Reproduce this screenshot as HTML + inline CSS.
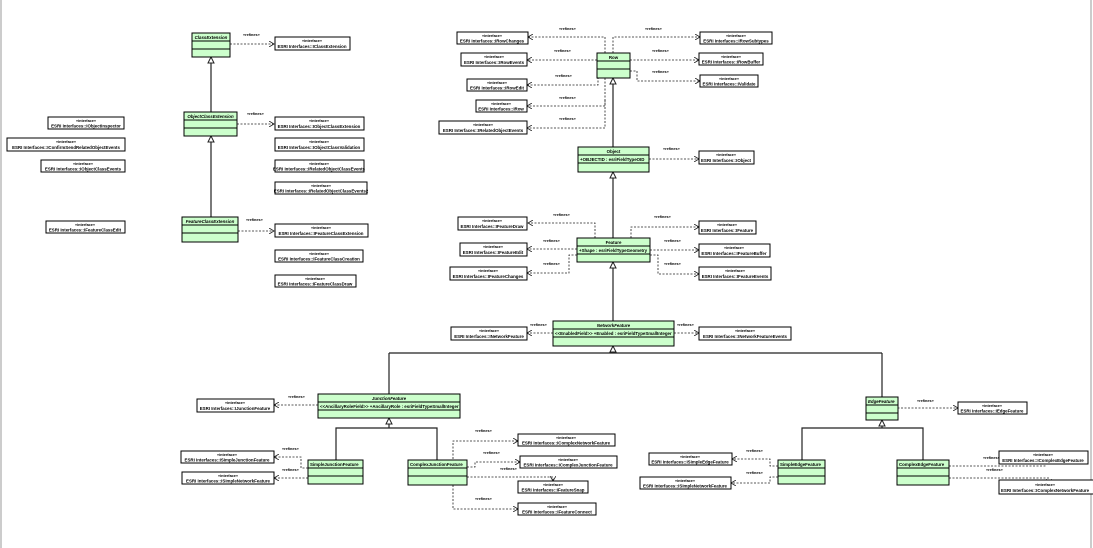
<!DOCTYPE html>
<html><head><meta charset="utf-8"><style>
html,body{margin:0;padding:0;background:#fff;width:1093px;height:548px;overflow:hidden}
svg text{font-family:"Liberation Sans",sans-serif;font-weight:bold;fill:#000}
.s{font-size:3.8px}.n{font-size:4.4px}.r{font-size:3.8px;fill:#000066}
.c{fill:#ccffcc;stroke:#000;stroke-width:1}
.i{fill:#fff;stroke:#000;stroke-width:1}
.d{fill:none;stroke:#222;stroke-width:0.8;stroke-dasharray:2,1.5}
.g{fill:none;stroke:#222;stroke-width:1.2}
.t{fill:#fff;stroke:#222;stroke-width:1}
</style></head><body>
<svg width="1093" height="548" viewBox="0 0 1093 548" xmlns="http://www.w3.org/2000/svg">
<defs>
<marker id="a" markerWidth="6" markerHeight="6" refX="5" refY="3" orient="auto" markerUnits="userSpaceOnUse"><path d="M0,0 L5,3 L0,6" fill="none" stroke="#222" stroke-width="0.8"/></marker>
</defs>
<line x1="1" y1="0" x2="1" y2="548" stroke="#999" stroke-width="1"/>
<line x1="1091" y1="0" x2="1091" y2="548" stroke="#999" stroke-width="1"/>

<path class="g" d="M211,63 V112 M211,142 V217 M613,84 V147 M613,178 V238 M613,268 V321 M613,352 V353 M389,353 H882 M389,353 V394 M882,353 V397 M389,424 V428 H336 V460 M389,428 H437 V460 M882,426 V428 H802 V460 M882,428 H923 V460"/>
<path class="t" d="M211,57 l-3,6 h6 z M211,136 l-3,6 h6 z M613,78 l-3,6 h6 z M613,172 l-3,6 h6 z M613,262 l-3,6 h6 z M613,346 l-3,6 h6 z M389,418 l-3,6 h6 z M882,420 l-3,6 h6 z"/>

<g class="d" marker-end="url(#a)">
<path d="M230,44 H274"/>
<path d="M237,124 H274"/>
<path d="M238,231 H274"/>
<path d="M605,53 V37 H528"/>
<path d="M597,60 H527"/>
<path d="M597,71 H598 V85 H527"/>
<path d="M605,78 V106 H527"/>
<path d="M605,100 V128 H527"/>
<path d="M613,53 V37 H700"/>
<path d="M630,60 H699"/>
<path d="M630,71 H637 V81 H700"/>
<path d="M649,159 H699"/>
<path d="M595,238 V223 H528"/>
<path d="M577,249 H527"/>
<path d="M577,255 H569 V273 H527"/>
<path d="M631,238 V227 H699"/>
<path d="M650,250 H699"/>
<path d="M650,255 H658 V274 H699"/>
<path d="M553,333 H527"/>
<path d="M674,333 H699"/>
<path d="M318,405 H274"/>
<path d="M308,468 H301 V457 H274"/>
<path d="M308,478 H274"/>
<path d="M467,466 H453 V441 H518"/>
<path d="M467,467 H475 V462 H520"/>
<path d="M467,477 H553 V481"/>
<path d="M453,485 V509 H518"/>
<path d="M866,408 H958"/>
<path d="M778,466 H770 V459 H732"/>
<path d="M778,477 H770 V483 H731"/>
<path d="M949,466 H1045 V458"/>
<path d="M949,478 H1049 V484"/>
</g>

<g class="r">
<text x="243" y="36">«refines»</text><text x="247" y="115">«refines»</text><text x="246" y="221">«refines»</text>
<text x="559" y="30">«refines»</text><text x="645" y="30">«refines»</text>
<text x="554" y="52">«refines»</text><text x="652" y="52">«refines»</text>
<text x="555" y="77">«refines»</text><text x="652" y="73">«refines»</text>
<text x="559" y="99">«refines»</text><text x="559" y="120">«refines»</text>
<text x="663" y="150">«refines»</text>
<text x="553" y="216">«refines»</text><text x="654" y="218">«refines»</text>
<text x="543" y="242">«refines»</text><text x="664" y="242">«refines»</text>
<text x="543" y="265">«refines»</text><text x="664" y="265">«refines»</text>
<text x="530" y="326">«refines»</text><text x="677" y="326">«refines»</text>
<text x="288" y="398">«refines»</text>
<text x="282" y="450">«refines»</text><text x="282" y="471">«refines»</text>
<text x="475" y="432">«refines»</text><text x="483" y="454">«refines»</text><text x="500" y="470">«refines»</text><text x="475" y="500">«refines»</text>
<text x="917" y="402">«refines»</text>
<text x="746" y="452">«refines»</text><text x="746" y="474">«refines»</text>
<text x="983" y="459">«refines»</text><text x="986" y="471">«refines»</text>
</g>

<g>
<rect class="c" x="192" y="33" width="38" height="24"/><path d="M192,41H230M192,49H230" stroke="#000"/><text class="n" x="211" y="39" text-anchor="middle" font-style="italic">ClassExtension</text>
<rect class="c" x="184" y="112" width="53" height="24"/><path d="M184,120H237M184,128H237" stroke="#000"/><text class="n" x="210.5" y="118" text-anchor="middle" font-style="italic">ObjectClassExtension</text>
<rect class="c" x="182" y="217" width="56" height="25"/><path d="M182,225H238M182,233H238" stroke="#000"/><text class="n" x="210" y="223" text-anchor="middle" font-style="italic">FeatureClassExtension</text>
<rect class="c" x="597" y="53" width="33" height="25"/><path d="M597,61H630M597,69H630" stroke="#000"/><text class="n" x="613.5" y="59" text-anchor="middle">Row</text>
<rect class="c" x="578" y="147" width="71" height="25"/><path d="M578,155H649M578,163H649" stroke="#000"/><text class="n" x="613.5" y="153" text-anchor="middle">Object</text><text class="n" x="580" y="161">+OBJECTID : esriFieldTypeOID</text>
<rect class="c" x="577" y="238" width="73" height="24"/><path d="M577,246H650M577,254H650" stroke="#000"/><text class="n" x="613.5" y="244" text-anchor="middle">Feature</text><text class="n" x="579" y="252">+Shape : esriFieldTypeGeometry</text>
<rect class="c" x="553" y="321" width="121" height="25"/><path d="M553,329H674M553,337H674" stroke="#000"/><text class="n" x="613.5" y="327" text-anchor="middle" font-style="italic">NetworkFeature</text><text class="n" x="555" y="335">&lt;&lt;EnabledField&gt;&gt; +Enabled : esriFieldTypeSmallInteger</text>
<rect class="c" x="318" y="394" width="142" height="24"/><path d="M318,402H460M318,410H460" stroke="#000"/><text class="n" x="389" y="400" text-anchor="middle" font-style="italic">JunctionFeature</text><text class="n" x="320" y="408">&lt;&lt;AncillaryRoleField&gt;&gt; +AncillaryRole : esriFieldTypeSmallInteger</text>
<rect class="c" x="308" y="460" width="55" height="24"/><path d="M308,468H363M308,476H363" stroke="#000"/><text class="n" x="310" y="466">SimpleJunctionFeature</text>
<rect class="c" x="408" y="460" width="59" height="25"/><path d="M408,468H467M408,476H467" stroke="#000"/><text class="n" x="410" y="466">ComplexJunctionFeature</text>
<rect class="c" x="866" y="397" width="32" height="23"/><path d="M866,405H898M866,413H898" stroke="#000"/><text class="n" x="868" y="403" font-style="italic">EdgeFeature</text>
<rect class="c" x="778" y="460" width="47" height="24"/><path d="M778,468H825M778,476H825" stroke="#000"/><text class="n" x="780" y="466">SimpleEdgeFeature</text>
<rect class="c" x="897" y="460" width="52" height="25"/><path d="M897,468H949M897,476H949" stroke="#000"/><text class="n" x="899" y="466">ComplexEdgeFeature</text>
</g>

<g>
<rect class="i" x="275" y="37" width="75" height="13"/><text class="s" x="312" y="42" text-anchor="middle">«interface»</text><text class="n" x="312" y="48" text-anchor="middle">ESRI Interfaces::IClassExtension</text>
<rect class="i" x="275" y="117" width="89" height="13"/><text class="s" x="319" y="122" text-anchor="middle">«interface»</text><text class="n" x="319" y="128" text-anchor="middle">ESRI Interfaces::IObjectClassExtension</text>
<rect class="i" x="275" y="138" width="89" height="13"/><text class="s" x="319" y="143" text-anchor="middle">«interface»</text><text class="n" x="319" y="149" text-anchor="middle">ESRI Interfaces::IObjectClassValidation</text>
<rect class="i" x="275" y="160" width="89" height="12"/><text class="s" x="319" y="165" text-anchor="middle">«interface»</text><text class="n" x="319" y="170.5" text-anchor="middle">ESRI Interfaces::IRelatedObjectClassEvents</text>
<rect class="i" x="275" y="182" width="92" height="12"/><text class="s" x="321" y="187" text-anchor="middle">«interface»</text><text class="n" x="321" y="192.5" text-anchor="middle">ESRI Interfaces::IRelatedObjectClassEvents2</text>
<rect class="i" x="275" y="224" width="93" height="13"/><text class="s" x="321" y="229" text-anchor="middle">«interface»</text><text class="n" x="321" y="235" text-anchor="middle">ESRI Interfaces::IFeatureClassExtension</text>
<rect class="i" x="275" y="250" width="88" height="12"/><text class="s" x="319" y="255" text-anchor="middle">«interface»</text><text class="n" x="319" y="260.5" text-anchor="middle">ESRI Interfaces::IFeatureClassCreation</text>
<rect class="i" x="275" y="275" width="81" height="12"/><text class="s" x="315" y="280" text-anchor="middle">«interface»</text><text class="n" x="315" y="285.5" text-anchor="middle">ESRI Interfaces::IFeatureClassDraw</text>
<rect class="i" x="48" y="117" width="76" height="12"/><text class="s" x="86" y="122" text-anchor="middle">«interface»</text><text class="n" x="86" y="127.5" text-anchor="middle">ESRI Interfaces::IObjectInspector</text>
<rect class="i" x="7" y="138" width="118" height="13"/><text class="s" x="66" y="143" text-anchor="middle">«interface»</text><text class="n" x="66" y="149" text-anchor="middle">ESRI Interfaces::IConfirmSendRelatedObjectEvents</text>
<rect class="i" x="41" y="160" width="84" height="12"/><text class="s" x="83" y="165" text-anchor="middle">«interface»</text><text class="n" x="83" y="170.5" text-anchor="middle">ESRI Interfaces::IObjectClassEvents</text>
<rect class="i" x="46" y="221" width="79" height="12"/><text class="s" x="85" y="226" text-anchor="middle">«interface»</text><text class="n" x="85" y="231.5" text-anchor="middle">ESRI Interfaces::IFeatureClassEdit</text>

<rect class="i" x="457" y="32" width="71" height="12"/><text class="s" x="492" y="37" text-anchor="middle">«interface»</text><text class="n" x="492" y="42.5" text-anchor="middle">ESRI Interfaces::IRowChanges</text>
<rect class="i" x="461" y="53" width="66" height="13"/><text class="s" x="494" y="58" text-anchor="middle">«interface»</text><text class="n" x="494" y="64" text-anchor="middle">ESRI Interfaces::IRowEvents</text>
<rect class="i" x="467" y="79" width="60" height="12"/><text class="s" x="497" y="84" text-anchor="middle">«interface»</text><text class="n" x="497" y="89.5" text-anchor="middle">ESRI Interfaces::IRowEdit</text>
<rect class="i" x="476" y="100" width="51" height="12"/><text class="s" x="501" y="105" text-anchor="middle">«interface»</text><text class="n" x="501" y="110.5" text-anchor="middle">ESRI Interfaces::IRow</text>
<rect class="i" x="439" y="121" width="88" height="13"/><text class="s" x="483" y="126" text-anchor="middle">«interface»</text><text class="n" x="483" y="132" text-anchor="middle">ESRI Interfaces::IRelatedObjectEvents</text>
<rect class="i" x="700" y="32" width="72" height="12"/><text class="s" x="736" y="37" text-anchor="middle">«interface»</text><text class="n" x="736" y="42.5" text-anchor="middle">ESRI Interfaces::IRowSubtypes</text>
<rect class="i" x="699" y="53" width="64" height="12"/><text class="s" x="731" y="58" text-anchor="middle">«interface»</text><text class="n" x="731" y="63.5" text-anchor="middle">ESRI Interfaces::IRowBuffer</text>
<rect class="i" x="700" y="75" width="58" height="12"/><text class="s" x="729" y="80" text-anchor="middle">«interface»</text><text class="n" x="729" y="85.5" text-anchor="middle">ESRI Interfaces::IValidate</text>
<rect class="i" x="699" y="151" width="55" height="13"/><text class="s" x="726" y="156" text-anchor="middle">«interface»</text><text class="n" x="726" y="162" text-anchor="middle">ESRI Interfaces::IObject</text>

<rect class="i" x="458" y="217" width="69" height="13"/><text class="s" x="492" y="222" text-anchor="middle">«interface»</text><text class="n" x="492" y="228" text-anchor="middle">ESRI Interfaces::IFeatureDraw</text>
<rect class="i" x="460" y="243" width="67" height="13"/><text class="s" x="493" y="248" text-anchor="middle">«interface»</text><text class="n" x="493" y="254" text-anchor="middle">ESRI Interfaces::IFeatureEdit</text>
<rect class="i" x="450" y="267" width="77" height="13"/><text class="s" x="488" y="272" text-anchor="middle">«interface»</text><text class="n" x="488" y="278" text-anchor="middle">ESRI Interfaces::IFeatureChanges</text>
<rect class="i" x="699" y="221" width="57" height="13"/><text class="s" x="727" y="226" text-anchor="middle">«interface»</text><text class="n" x="727" y="232" text-anchor="middle">ESRI Interfaces::IFeature</text>
<rect class="i" x="699" y="244" width="71" height="13"/><text class="s" x="734" y="249" text-anchor="middle">«interface»</text><text class="n" x="734" y="255" text-anchor="middle">ESRI Interfaces::IFeatureBuffer</text>
<rect class="i" x="699" y="267" width="72" height="13"/><text class="s" x="735" y="272" text-anchor="middle">«interface»</text><text class="n" x="735" y="278" text-anchor="middle">ESRI Interfaces::IFeatureEvents</text>
<rect class="i" x="451" y="327" width="76" height="13"/><text class="s" x="489" y="332" text-anchor="middle">«interface»</text><text class="n" x="489" y="338" text-anchor="middle">ESRI Interfaces::INetworkFeature</text>
<rect class="i" x="699" y="327" width="92" height="13"/><text class="s" x="745" y="332" text-anchor="middle">«interface»</text><text class="n" x="745" y="338" text-anchor="middle">ESRI Interfaces::INetworkFeatureEvents</text>

<rect class="i" x="197" y="399" width="77" height="13"/><text class="s" x="235" y="404" text-anchor="middle">«interface»</text><text class="n" x="235" y="410" text-anchor="middle">ESRI Interfaces::IJunctionFeature</text>
<rect class="i" x="181" y="451" width="93" height="12"/><text class="s" x="227" y="456" text-anchor="middle">«interface»</text><text class="n" x="227" y="461.5" text-anchor="middle">ESRI Interfaces::ISimpleJunctionFeature</text>
<rect class="i" x="182" y="472" width="92" height="12"/><text class="s" x="228" y="477" text-anchor="middle">«interface»</text><text class="n" x="228" y="482.5" text-anchor="middle">ESRI Interfaces::ISimpleNetworkFeature</text>
<rect class="i" x="518" y="434" width="97" height="12"/><text class="s" x="566" y="439" text-anchor="middle">«interface»</text><text class="n" x="566" y="444.5" text-anchor="middle">ESRI Interfaces::IComplexNetworkFeature</text>
<rect class="i" x="520" y="456" width="97" height="12"/><text class="s" x="568" y="461" text-anchor="middle">«interface»</text><text class="n" x="568" y="466.5" text-anchor="middle">ESRI Interfaces::IComplexJunctionFeature</text>
<rect class="i" x="518" y="481" width="70" height="12"/><text class="s" x="553" y="486" text-anchor="middle">«interface»</text><text class="n" x="553" y="491.5" text-anchor="middle">ESRI Interfaces::IFeatureSnap</text>
<rect class="i" x="518" y="503" width="78" height="12"/><text class="s" x="557" y="508" text-anchor="middle">«interface»</text><text class="n" x="557" y="513.5" text-anchor="middle">ESRI Interfaces::IFeatureConnect</text>

<rect class="i" x="958" y="402" width="69" height="12"/><text class="s" x="992" y="407" text-anchor="middle">«interface»</text><text class="n" x="992" y="412.5" text-anchor="middle">ESRI Interfaces::IEdgeFeature</text>
<rect class="i" x="649" y="453" width="83" height="12"/><text class="s" x="690" y="458" text-anchor="middle">«interface»</text><text class="n" x="690" y="463.5" text-anchor="middle">ESRI Interfaces::ISimpleEdgeFeature</text>
<rect class="i" x="640" y="477" width="91" height="12"/><text class="s" x="685" y="482" text-anchor="middle">«interface»</text><text class="n" x="685" y="487.5" text-anchor="middle">ESRI Interfaces::ISimpleNetworkFeature</text>
<rect class="i" x="999" y="451" width="89" height="13"/><text class="s" x="1043" y="456" text-anchor="middle">«interface»</text><text class="n" x="1043" y="462" text-anchor="middle">ESRI Interfaces::IComplexEdgeFeature</text>
<rect class="i" x="999" y="480" width="96" height="14"/><text class="s" x="1045" y="486" text-anchor="middle">«interface»</text><text class="n" x="1001" y="492">ESRI Interfaces::IComplexNetworkFeature</text>
</g>
</svg>
</body></html>
